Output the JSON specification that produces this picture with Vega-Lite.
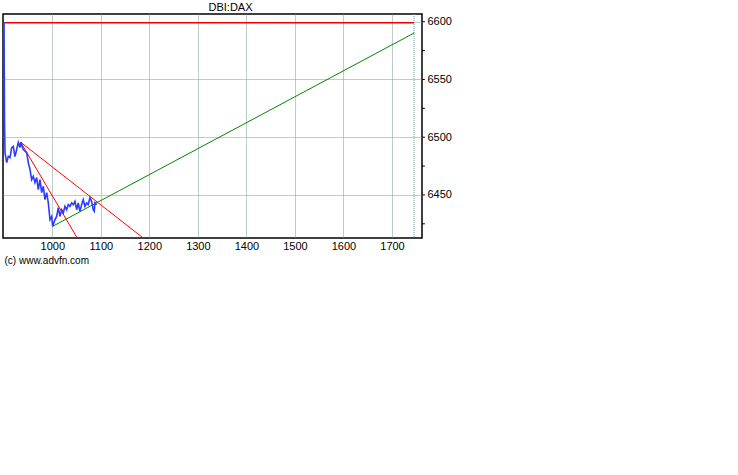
{
  "$schema": "https://vega.github.io/schema/vega-lite/v6.json",
  "autosize": "none",
  "width": 419,
  "height": 224,
  "padding": {"left": 3, "top": 14, "right": 316, "bottom": 237},
  "background": "white",
  "title": {"text": "DBI:DAX", "fontSize": 11, "font": "Liberation Sans", "fontWeight": "normal", "color": "black", "offset": 1, "dx": 18},
  "config": {
    "view": {"stroke": "black", "strokeWidth": 1.5},
    "axis": {"labelFont": "Liberation Sans", "labelFontSize": 11, "labelColor": "black", "titleFont": "Liberation Sans", "domain": false, "gridColor": "#7a9a9a", "gridDash": [1, 1], "gridWidth": 1}
  },
  "datasets": {
    "price": [
      {"x": 900.6, "y": 6599.5}, {"x": 901.6, "y": 6515.3}, {"x": 902.6, "y": 6486.7}, {"x": 906.1, "y": 6478.0},
      {"x": 909.4, "y": 6483.5}, {"x": 912.9, "y": 6482.4}, {"x": 916.4, "y": 6491.0}, {"x": 919.7, "y": 6492.0},
      {"x": 923.2, "y": 6483.2}, {"x": 926.7, "y": 6489.3}, {"x": 930.0, "y": 6495.4}, {"x": 933.5, "y": 6491.0},
      {"x": 935.0, "y": 6495.6}, {"x": 940.3, "y": 6489.3}, {"x": 947.3, "y": 6486.7}, {"x": 950.6, "y": 6478.0},
      {"x": 954.1, "y": 6472.0}, {"x": 957.6, "y": 6463.3}, {"x": 960.9, "y": 6466.1}, {"x": 964.4, "y": 6460.7},
      {"x": 967.9, "y": 6465.0}, {"x": 971.2, "y": 6454.6}, {"x": 974.7, "y": 6463.3}, {"x": 978.2, "y": 6452.0},
      {"x": 981.5, "y": 6457.5}, {"x": 985.0, "y": 6445.9}, {"x": 988.5, "y": 6452.0}, {"x": 991.8, "y": 6443.3},
      {"x": 995.3, "y": 6428.6}, {"x": 998.8, "y": 6431.4}, {"x": 1000.8, "y": 6422.8}, {"x": 1005.6, "y": 6428.6},
      {"x": 1009.1, "y": 6431.4}, {"x": 1012.4, "y": 6439.0}, {"x": 1015.9, "y": 6431.4}, {"x": 1019.4, "y": 6437.2},
      {"x": 1022.7, "y": 6434.4}, {"x": 1026.2, "y": 6440.1}, {"x": 1029.7, "y": 6437.2}, {"x": 1033.0, "y": 6441.6},
      {"x": 1036.5, "y": 6440.1}, {"x": 1040.0, "y": 6443.1}, {"x": 1043.3, "y": 6441.6}, {"x": 1046.8, "y": 6444.4},
      {"x": 1050.3, "y": 6437.2}, {"x": 1053.5, "y": 6443.1}, {"x": 1057.0, "y": 6435.8}, {"x": 1060.5, "y": 6441.6},
      {"x": 1063.8, "y": 6445.9}, {"x": 1067.3, "y": 6440.1}, {"x": 1070.8, "y": 6443.1}, {"x": 1074.1, "y": 6441.6},
      {"x": 1077.6, "y": 6447.7}, {"x": 1081.1, "y": 6444.4}, {"x": 1084.4, "y": 6437.2}, {"x": 1086.5, "y": 6435.8},
      {"x": 1087.9, "y": 6443.3}, {"x": 1091.4, "y": 6441.6}
    ],
    "red1": [{"x": 935.0, "y": 6495.6}, {"x": 1187.4, "y": 6412.7}],
    "red2": [{"x": 935.0, "y": 6495.6}, {"x": 1051.5, "y": 6412.7}],
    "green": [{"x": 1000.8, "y": 6422.8}, {"x": 1745.4, "y": 6590.2}],
    "hline": [{"x": 898.5, "y": 6599.2}, {"x": 1745.4, "y": 6599.2}],
    "vgrid": [{"x": 1745.4}],
    "yticks": [
      {"y": 6425, "x": 1761.8, "x2": 1767.8}, {"y": 6450, "x": 1761.8, "x2": 1767.8},
      {"y": 6475, "x": 1761.8, "x2": 1767.8}, {"y": 6500, "x": 1761.8, "x2": 1767.8},
      {"y": 6525, "x": 1761.8, "x2": 1767.8}, {"y": 6550, "x": 1761.8, "x2": 1767.8},
      {"y": 6575, "x": 1761.8, "x2": 1767.8}, {"y": 6600, "x": 1761.8, "x2": 1767.8}
    ]
  },
  "layer": [
    {
      "data": {"name": "vgrid"},
      "mark": {"type": "rule", "color": "#7a9a9a", "strokeDash": [1, 1]},
      "encoding": {
        "x": {
          "field": "x", "type": "quantitative",
          "scale": {"domain": [898.5, 1761.8], "nice": false, "zero": false},
          "axis": {"values": [1000, 1100, 1200, 1300, 1400, 1500, 1600, 1700], "format": "d", "ticks": false, "labelPadding": 2, "grid": true, "title": "(c) www.advfn.com", "titleFontSize": 10, "titleFontWeight": "normal", "titleAnchor": "start", "titleAlign": "left", "titleX": 1, "titlePadding": 4, "titleColor": "black"}
        }
      }
    },
    {
      "data": {"name": "hline"},
      "mark": {"type": "line", "color": "#ee0000", "strokeWidth": 1.5},
      "encoding": {
        "x": {"field": "x", "type": "quantitative"},
        "y": {
          "field": "y", "type": "quantitative",
          "scale": {"domain": [6412.7, 6606.7], "nice": false, "zero": false},
          "axis": {"orient": "right", "values": [6450, 6500, 6550, 6600], "format": "d", "labelOverlap": false, "labelFlush": false, "ticks": false, "labelPadding": 5, "title": null, "grid": true}
        }
      }
    },
    {
      "data": {"name": "yticks"},
      "mark": {"type": "rule", "color": "black", "strokeWidth": 1, "clip": false},
      "encoding": {"x": {"field": "x", "type": "quantitative"}, "x2": {"field": "x2"}, "y": {"field": "y", "type": "quantitative"}}
    },
    {
      "data": {"name": "green"},
      "mark": {"type": "line", "color": "#008800", "strokeWidth": 1},
      "encoding": {"x": {"field": "x", "type": "quantitative"}, "y": {"field": "y", "type": "quantitative"}}
    },
    {
      "data": {"name": "red1"},
      "mark": {"type": "line", "color": "#ff0000", "strokeWidth": 1, "clip": true},
      "encoding": {"x": {"field": "x", "type": "quantitative"}, "y": {"field": "y", "type": "quantitative"}}
    },
    {
      "data": {"name": "red2"},
      "mark": {"type": "line", "color": "#ff0000", "strokeWidth": 1, "clip": true},
      "encoding": {"x": {"field": "x", "type": "quantitative"}, "y": {"field": "y", "type": "quantitative"}}
    },
    {
      "data": {"name": "price"},
      "mark": {"type": "line", "color": "#2a3cff", "strokeWidth": 1.6},
      "encoding": {"x": {"field": "x", "type": "quantitative"}, "y": {"field": "y", "type": "quantitative"}}
    }
  ]
}
